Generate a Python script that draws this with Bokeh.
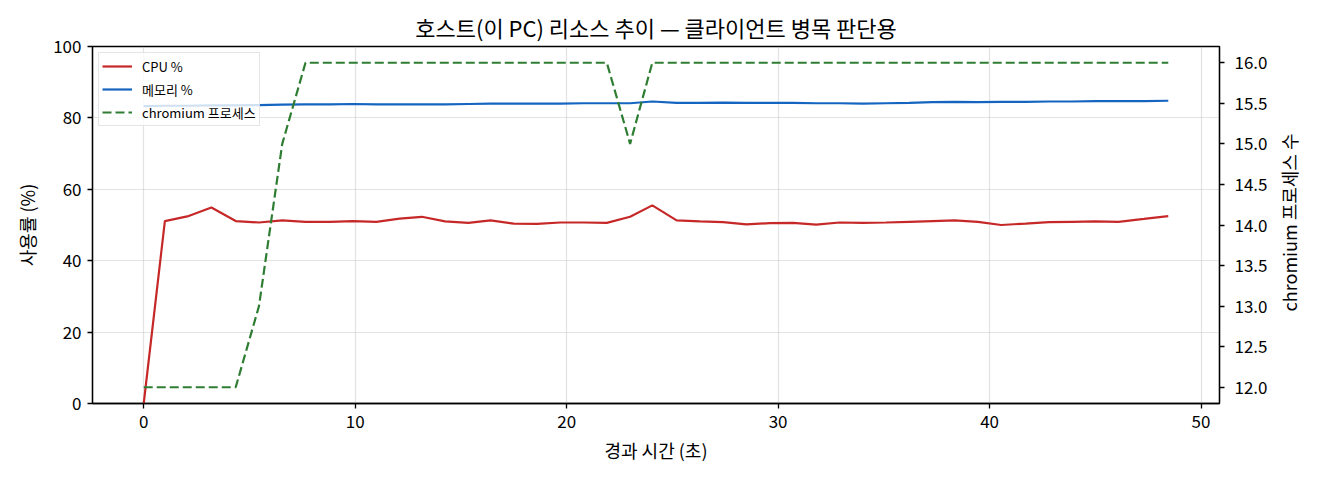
import math
from bokeh.plotting import figure
from bokeh.layouts import row
from bokeh.models import Range1d, LinearAxis, FixedTicker, NumeralTickFormatter, Legend
from bokeh.core.properties import value
from bokeh.embed import file_html
from bokeh.resources import INLINE

# ---- data ----
elapsed_s = [0.0, 1.0, 2.06, 3.2, 4.35, 5.45, 6.55, 7.65, 8.8, 9.9, 11.0, 12.1, 13.15,
             14.25, 15.35, 16.4, 17.5, 18.6, 19.7, 20.8, 21.9, 23.0, 24.05, 25.2, 26.3,
             27.4, 28.5, 29.6, 30.7, 31.8, 32.9, 34.0, 35.1, 36.2, 37.3, 38.35, 39.45,
             40.55, 41.7, 42.8, 43.9, 45.0, 46.1, 47.3, 48.45]
cpu_pct = [0.0, 51.1, 52.4, 54.9, 51.1, 50.7, 51.3, 50.9, 50.9, 51.1, 50.9, 51.8, 52.3,
           51.0, 50.6, 51.3, 50.4, 50.3, 50.7, 50.7, 50.6, 52.3, 55.5, 51.3, 51.0,
           50.8, 50.2, 50.5, 50.6, 50.1, 50.7, 50.6, 50.7, 50.9, 51.1, 51.3, 50.9,
           50.0, 50.4, 50.8, 50.9, 51.0, 50.9, 51.7, 52.5]
mem_pct = [83.3, 83.4, 83.4, 83.5, 83.5, 83.6, 83.7, 83.8, 83.8, 83.9, 83.8, 83.8, 83.8,
           83.8, 83.9, 84.0, 84.0, 84.0, 84.0, 84.1, 84.1, 84.1, 84.6, 84.2, 84.2,
           84.3, 84.2, 84.2, 84.2, 84.1, 84.1, 84.0, 84.1, 84.2, 84.4, 84.5, 84.4,
           84.5, 84.5, 84.6, 84.6, 84.7, 84.7, 84.7, 84.8]
chromium_procs = [12, 12, 12, 12, 12, 13, 15, 16, 16, 16, 16, 16, 16,
                  16, 16, 16, 16, 16, 16, 16, 16, 15, 16, 16, 16,
                  16, 16, 16, 16, 16, 16, 16, 16, 16, 16, 16, 16,
                  16, 16, 16, 16, 16, 16, 16, 16]

x_ticks = [0, 10, 20, 30, 40, 50]
y_ticks = [0, 20, 40, 60, 80, 100]
proc_ticks = [12.0, 12.5, 13.0, 13.5, 14.0, 14.5, 15.0, 15.5, 16.0]

title_text = "호스트(이 PC) 리소스 추이 — 클라이언트 병목 판단용"
x_label = "경과 시간 (초)"
y_label = "사용률 (%)"
y2_label = "chromium 프로세스 수"
labels = ["CPU %", "메모리 %", "chromium 프로세스"]
colors = ["#c62828", "#1565c0", "#2e7d32"]

FONT = "Noto Sans CJK KR"
FW, FH = 1127, 357
B_LEFT, B_RIGHT, B_TOP, B_BOTTOM = 92, 50, 46, 60
TOTAL_H = B_TOP + FH + B_BOTTOM
SIDE_W = 38

xmin, xmax = min(elapsed_s), max(elapsed_s)
pad = (xmax - xmin) * 0.05
pmin, pmax = min(chromium_procs), max(chromium_procs)
ppad = (pmax - pmin) * 0.05

p = figure(
    frame_width=FW, frame_height=FH,
    min_border_left=B_LEFT, min_border_right=B_RIGHT, min_border_top=B_TOP,
    min_border_bottom=B_BOTTOM,
    x_range=Range1d(xmin - pad, xmax + pad), y_range=Range1d(0, 100),
    output_backend="svg", toolbar_location=None,
    title=title_text,
)
p.extra_y_ranges = {"proc": Range1d(pmin - ppad, pmax + ppad)}

p.title.align = "center"
p.title.text_font = FONT
p.title.text_font_style = "normal"
p.title.text_font_size = "22px"
p.title.text_color = "black"
p.title.offset = 0
p.title.standoff = 7

p.outline_line_color = "black"
p.outline_line_width = 1.3
p.outline_line_alpha = 1.0
p.background_fill_color = "white"
p.border_fill_color = "white"

for g in (p.xgrid, p.ygrid):
    g.grid_line_color = "#b0b0b0"
    g.grid_line_alpha = 0.35
    g.grid_line_width = 1.2


def style_axis(ax, label):
    ax.axis_label = label
    ax.axis_label_text_font = FONT
    ax.axis_label_text_font_style = "normal"
    ax.axis_label_text_font_size = "18px"
    ax.axis_label_text_color = "black"
    ax.major_label_text_font = FONT
    ax.major_label_text_font_size = "17px"
    ax.major_label_text_color = "black"
    ax.axis_line_color = "black"
    ax.axis_line_width = 1.3
    ax.major_tick_line_color = "black"
    ax.major_tick_line_width = 1.3
    ax.major_tick_out = 5
    ax.major_tick_in = 0
    ax.minor_tick_line_color = None
    ax.major_label_standoff = 6
    ax.axis_label_standoff = 10


xa = p.xaxis[0]
style_axis(xa, x_label)
xa.ticker = FixedTicker(ticks=x_ticks)
xa.axis_label_standoff = 6
ya = p.yaxis[0]
style_axis(ya, y_label)
ya.ticker = FixedTicker(ticks=y_ticks)

ra = LinearAxis(y_range_name="proc")
style_axis(ra, None)
ra.ticker = FixedTicker(ticks=proc_ticks)
ra.formatter = NumeralTickFormatter(format="0.0")
ra.major_label_standoff = 10
p.add_layout(ra, "right")

r_cpu = p.line(elapsed_s, cpu_pct, line_color=colors[0], line_width=2.2)
r_mem = p.line(elapsed_s, mem_pct, line_color=colors[1], line_width=2.2)
r_proc = p.line(elapsed_s, chromium_procs, line_color=colors[2], line_width=2.2,
                line_dash="9 4", y_range_name="proc")

legend = Legend(items=[(labels[0], [r_cpu]), (labels[1], [r_mem]), (labels[2], [r_proc])],
                location="top_left")
legend.margin = 6
legend.padding = 3
legend.spacing = 3
legend.glyph_width = 30
legend.glyph_height = 20
legend.label_height = 20
legend.label_standoff = 10
legend.label_text_font = FONT
legend.label_text_font_size = "13px"
legend.label_text_color = "black"
legend.border_line_color = "#cccccc"
legend.border_line_width = 1.3
legend.background_fill_color = "white"
legend.background_fill_alpha = 0.8
p.add_layout(legend, "center")

# narrow strip on the right carrying the right-hand axis title (reads bottom-to-top)
s = figure(
    width=SIDE_W, height=TOTAL_H,
    x_range=Range1d(0, SIDE_W), y_range=Range1d(0, TOTAL_H),
    x_axis_location=None, y_axis_location=None,
    min_border_left=0, min_border_right=0, min_border_top=0, min_border_bottom=0,
    output_backend="svg", toolbar_location=None,
)
s.outline_line_color = None
s.xgrid.visible = False
s.ygrid.visible = False
s.background_fill_color = "white"
s.border_fill_color = "white"
s.text(x=[SIDE_W / 2 - 1], y=[B_BOTTOM + FH / 2 - 5], text=[y2_label], angle=math.pi / 2,
       text_align="center", text_baseline="middle", text_font=value(FONT),
       text_font_size="18px", text_color="black")

layout = row(p, s, spacing=0)
open("out.html", "w").write(file_html(layout, INLINE))
